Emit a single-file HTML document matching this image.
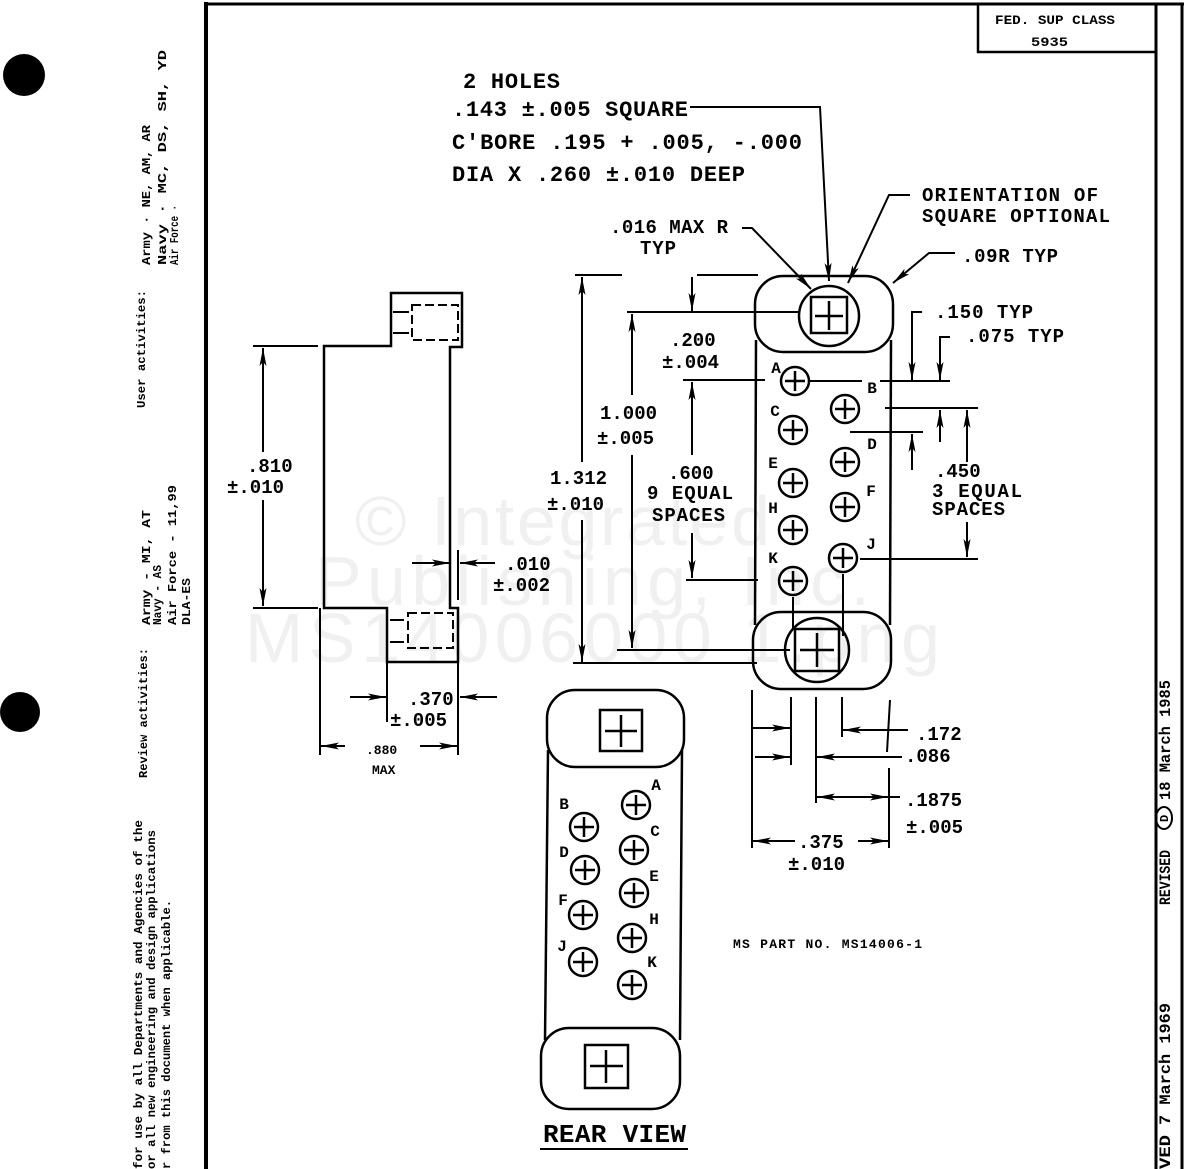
<!DOCTYPE html>
<html><head><meta charset="utf-8">
<style>
html,body{margin:0;padding:0;background:#fff;}
svg{display:block;}
text{font-family:"Liberation Mono","DejaVu Sans Mono",monospace;font-weight:bold;fill:#000;}
.d{font-size:19px;}
.t{font-size:22px;}
.l{font-size:16px;}
.s{font-size:12px;}
.m{font-size:13px;}
.r{font-size:16px;}
.w{font-family:"Liberation Sans",sans-serif;font-weight:normal;fill:#f0f0f0;font-size:70px;}
</style></head>
<body>
<svg width="1186" height="1169" viewBox="0 0 1186 1169" xmlns="http://www.w3.org/2000/svg">
<defs>
<marker id="a" viewBox="0 0 18 8" refX="18" refY="4" markerWidth="18" markerHeight="8" markerUnits="userSpaceOnUse" orient="auto-start-reverse">
<path d="M0,0.5 L18,4 L0,7.5 L4,4 Z" fill="#000"/>
</marker>
<g id="pin"><circle cx="0" cy="0" r="14" fill="none" stroke="#000" stroke-width="2.5"/><line x1="-10" y1="0" x2="10" y2="0" stroke="#000" stroke-width="2.5"/><line x1="0" y1="-10" x2="0" y2="10" stroke="#000" stroke-width="2.5"/></g>
</defs>
<rect width="1186" height="1169" fill="#fff"/>

<!-- watermark -->
<text class="w" x="355" y="545" textLength="415">© Integrated</text>
<text class="w" x="315" y="605" textLength="555">Publishing, Inc.</text>
<text class="w" x="245" y="662" textLength="695">MS14006000 1.png</text>

<!-- frame -->
<g stroke="#000" fill="none">
<line x1="206" y1="2" x2="206" y2="1169" stroke-width="4"/>
<line x1="205" y1="4" x2="1184" y2="4" stroke-width="3"/>
<line x1="1156" y1="4" x2="1156" y2="1169" stroke-width="3"/>
<line x1="1182" y1="4" x2="1182" y2="1169" stroke-width="3"/>
<line x1="978" y1="4" x2="978" y2="53" stroke-width="2.5"/>
<line x1="977" y1="52" x2="1156" y2="52" stroke-width="2.5"/>
</g>
<text class="m" x="995" y="24" textLength="120" lengthAdjust="spacingAndGlyphs">FED. SUP CLASS</text>
<text class="m" x="1031" y="46" textLength="37" lengthAdjust="spacingAndGlyphs">5935</text>

<!-- punch holes -->
<circle cx="24" cy="75" r="21" fill="#000"/>
<circle cx="20" cy="712" r="20" fill="#000"/>

<!-- left rotated notes -->
<text class="s" transform="translate(145,408) rotate(-90)" textLength="118" lengthAdjust="spacingAndGlyphs">User activities:</text>
<text class="s" transform="translate(150,265) rotate(-90)" textLength="140" lengthAdjust="spacingAndGlyphs">Army · NE, AM, AR</text>
<text class="s" transform="translate(166,265) rotate(-90)" textLength="215" lengthAdjust="spacingAndGlyphs">Navy · MC, DS, SH, YD</text>
<text class="s" transform="translate(178,265) rotate(-90)" textLength="60" lengthAdjust="spacingAndGlyphs">Air Force ·</text>
<text class="s" transform="translate(147,778) rotate(-90)" textLength="130" lengthAdjust="spacingAndGlyphs">Review activities:</text>
<text class="s" transform="translate(150,625) rotate(-90)" textLength="115" lengthAdjust="spacingAndGlyphs">Army - MI, AT</text>
<text class="s" transform="translate(161,625) rotate(-90)" textLength="60" lengthAdjust="spacingAndGlyphs">Navy - AS</text>
<text class="s" transform="translate(176,625) rotate(-90)" textLength="140" lengthAdjust="spacingAndGlyphs">Air Force - 11,99</text>
<text class="s" transform="translate(190,625) rotate(-90)" textLength="47" lengthAdjust="spacingAndGlyphs">DLA-ES</text>
<text class="s" transform="translate(142,1169) rotate(-90)" textLength="349" lengthAdjust="spacingAndGlyphs">for use by all Departments and Agencies of the</text>
<text class="s" transform="translate(155,1169) rotate(-90)" textLength="339" lengthAdjust="spacingAndGlyphs">or all new engineering and design applications</text>
<text class="s" transform="translate(170,1169) rotate(-90)" textLength="269" lengthAdjust="spacingAndGlyphs">r from this document when applicable.</text>

<!-- right rotated notes -->
<text class="r" transform="translate(1170,905) rotate(-90)" textLength="55" lengthAdjust="spacingAndGlyphs">REVISED</text>
<ellipse cx="1164" cy="818" rx="8" ry="11" fill="none" stroke="#000" stroke-width="2"/>
<text class="s" transform="translate(1168,822) rotate(-90)">D</text>
<text class="r" transform="translate(1170,800) rotate(-90)" textLength="120" lengthAdjust="spacingAndGlyphs">18 March 1985</text>
<text class="r" transform="translate(1170,1169) rotate(-90)" textLength="34" lengthAdjust="spacingAndGlyphs">VED</text>
<text class="r" transform="translate(1170,1125) rotate(-90)" textLength="122" lengthAdjust="spacingAndGlyphs">7 March 1969</text>

<!-- top callouts -->
<text class="t" x="463" y="88" textLength="97">2 HOLES</text>
<text class="t" x="452" y="116" textLength="236">.143 ±.005 SQUARE</text>
<text class="t" x="452" y="149" textLength="350">C'BORE .195 + .005, -.000</text>
<text class="t" x="452" y="181" textLength="293">DIA X .260 ±.010 DEEP</text>
<text class="d" x="922" y="201" textLength="176">ORIENTATION OF</text>
<text class="d" x="922" y="222" textLength="188">SQUARE OPTIONAL</text>
<text class="d" x="610" y="233" textLength="118">.016 MAX R</text>
<text class="d" x="640" y="254" textLength="36">TYP</text>
<text class="d" x="962" y="262" textLength="96">.09R TYP</text>

<g stroke="#000" stroke-width="2" fill="none">
<polyline points="690,107 820,107 829,281" marker-end="url(#a)"/>
<polyline points="910,195 889,195 848,283" marker-end="url(#a)"/>
<polyline points="742,228 752,228 811,289" marker-end="url(#a)"/>
<polyline points="955,253 929,253 893,283" marker-end="url(#a)"/>
</g>

<!-- front view -->
<g stroke="#000" stroke-width="2.5" fill="none">
<rect x="755" y="276" width="138" height="76" rx="28"/>
<rect x="753" y="612" width="138" height="77" rx="28"/>
<line x1="756" y1="340" x2="755" y2="625"/>
<line x1="891" y1="340" x2="890" y2="625"/>
<circle cx="829" cy="316" r="30"/>
<rect x="811" y="297" width="36" height="36"/>
<line x1="815" y1="316" x2="843" y2="316"/>
<line x1="829" y1="301" x2="829" y2="330"/>
<circle cx="817" cy="650" r="32"/>
<rect x="795" y="629" width="44" height="42"/>
<line x1="800" y1="650" x2="834" y2="650"/>
<line x1="817" y1="633" x2="817" y2="667"/>
</g>
<use href="#pin" transform="translate(795,381)"/>
<use href="#pin" transform="translate(793,430)"/>
<use href="#pin" transform="translate(793,483)"/>
<use href="#pin" transform="translate(793,530)"/>
<use href="#pin" transform="translate(793,581)"/>
<use href="#pin" transform="translate(845,409)"/>
<use href="#pin" transform="translate(845,462)"/>
<use href="#pin" transform="translate(845,507)"/>
<use href="#pin" transform="translate(843,558)"/>
<g text-anchor="middle">
<text class="l" x="776" y="373">A</text>
<text class="l" x="872" y="393">B</text>
<text class="l" x="775" y="416">C</text>
<text class="l" x="872" y="449">D</text>
<text class="l" x="773" y="468">E</text>
<text class="l" x="871" y="496">F</text>
<text class="l" x="773" y="513">H</text>
<text class="l" x="871" y="549">J</text>
<text class="l" x="773" y="563">K</text>
</g>

<g stroke="#000" stroke-width="2" fill="none">
<line x1="810" y1="381" x2="862" y2="381"/>
<line x1="793" y1="597" x2="793" y2="628"/>
<line x1="843" y1="574" x2="843" y2="636"/>

<!-- left dims of front view -->
<line x1="575" y1="275" x2="622" y2="275"/>
<line x1="697" y1="275" x2="758" y2="275"/>
<line x1="582" y1="462" x2="582" y2="277" marker-end="url(#a)"/>
<line x1="582" y1="520" x2="582" y2="662" marker-end="url(#a)"/>
<line x1="692" y1="277" x2="692" y2="311" marker-end="url(#a)"/>
<line x1="627" y1="312" x2="800" y2="312"/>
<line x1="632" y1="395" x2="632" y2="314" marker-end="url(#a)"/>
<line x1="632" y1="455" x2="632" y2="648" marker-end="url(#a)"/>
<line x1="683" y1="380" x2="765" y2="380"/>
<line x1="692" y1="455" x2="692" y2="382" marker-end="url(#a)"/>
<line x1="692" y1="533" x2="692" y2="578" marker-end="url(#a)"/>
<line x1="686" y1="580" x2="758" y2="580"/>
<line x1="617" y1="650" x2="790" y2="650"/>
<line x1="573" y1="663" x2="757" y2="663"/>

<!-- right dims -->
<polyline points="922,312 912,312 912,380" marker-end="url(#a)"/>
<polyline points="950,337 940,337 940,380" marker-end="url(#a)"/>
<line x1="880" y1="381" x2="950" y2="381"/>
<line x1="885" y1="408" x2="978" y2="408"/>
<line x1="850" y1="432" x2="923" y2="432"/>
<line x1="860" y1="559" x2="978" y2="559"/>
<line x1="940" y1="442" x2="940" y2="410" marker-end="url(#a)"/>
<line x1="912" y1="470" x2="912" y2="434" marker-end="url(#a)"/>
<line x1="967" y1="462" x2="967" y2="410" marker-end="url(#a)"/>
<line x1="967" y1="522" x2="967" y2="557" marker-end="url(#a)"/>

<!-- bottom dims -->
<line x1="752" y1="690" x2="752" y2="848"/>
<line x1="791" y1="697" x2="791" y2="765"/>
<line x1="816" y1="697" x2="816" y2="803"/>
<line x1="842" y1="697" x2="842" y2="737"/>
<line x1="890" y1="700" x2="887" y2="752"/>
<line x1="889" y1="768" x2="889" y2="848"/>
<line x1="752" y1="728" x2="790" y2="728" marker-end="url(#a)"/>
<line x1="908" y1="730" x2="843" y2="730" marker-end="url(#a)"/>
<line x1="755" y1="757" x2="790" y2="757" marker-end="url(#a)"/>
<line x1="902" y1="757" x2="817" y2="757" marker-end="url(#a)"/>
<line x1="817" y1="797" x2="888" y2="797" marker-start="url(#a)" marker-end="url(#a)"/>
<line x1="888" y1="797" x2="900" y2="797"/>
<line x1="795" y1="841" x2="753" y2="841" marker-end="url(#a)"/>
<line x1="858" y1="841" x2="888" y2="841" marker-end="url(#a)"/>
</g>

<text class="d" x="670" y="346">.200</text>
<text class="d" x="662" y="368">±.004</text>
<text class="d" x="600" y="419">1.000</text>
<text class="d" x="597" y="444">±.005</text>
<text class="d" x="550" y="484">1.312</text>
<text class="d" x="547" y="510">±.010</text>
<text class="d" x="668" y="479">.600</text>
<text class="d" x="647" y="499" textLength="86">9 EQUAL</text>
<text class="d" x="652" y="521" textLength="73">SPACES</text>
<text class="d" x="935" y="318" textLength="98">.150 TYP</text>
<text class="d" x="966" y="342" textLength="98">.075 TYP</text>
<text class="d" x="935" y="477">.450</text>
<text class="d" x="932" y="497" textLength="90">3 EQUAL</text>
<text class="d" x="932" y="515" textLength="73">SPACES</text>
<text class="d" x="916" y="740">.172</text>
<text class="d" x="905" y="762">.086</text>
<text class="d" x="905" y="806">.1875</text>
<text class="d" x="906" y="833">±.005</text>
<text class="d" x="798" y="848">.375</text>
<text class="d" x="788" y="870">±.010</text>

<!-- side view -->
<g stroke="#000" stroke-width="2.5" fill="none">
<polygon points="391,293 462,293 462,347 450,347 450,608 458,608 458,662 387,662 387,608 324,608 324,346 391,346"/>
</g>
<g stroke="#000" stroke-width="2" fill="none">
<rect x="412" y="305" width="46" height="35" stroke-dasharray="9,4"/>
<line x1="393" y1="312" x2="409" y2="312"/>
<line x1="393" y1="333" x2="409" y2="333"/>
<rect x="408" y="613" width="45" height="35" stroke-dasharray="9,4"/>
<line x1="390" y1="620" x2="404" y2="620"/>
<line x1="390" y1="642" x2="404" y2="642"/>

<line x1="253" y1="346" x2="318" y2="346"/>
<line x1="253" y1="608" x2="318" y2="608"/>
<line x1="263" y1="452" x2="263" y2="348" marker-end="url(#a)"/>
<line x1="263" y1="500" x2="263" y2="606" marker-end="url(#a)"/>
<line x1="458" y1="550" x2="458" y2="600"/>
<line x1="412" y1="563" x2="450" y2="563" marker-end="url(#a)"/>
<line x1="495" y1="563" x2="460" y2="563" marker-end="url(#a)"/>
<line x1="387" y1="662" x2="387" y2="722"/>
<line x1="458" y1="662" x2="458" y2="755"/>
<line x1="350" y1="697" x2="386" y2="697" marker-end="url(#a)"/>
<line x1="497" y1="697" x2="460" y2="697" marker-end="url(#a)"/>
<line x1="320" y1="608" x2="320" y2="755"/>
<line x1="345" y1="746" x2="321" y2="746" marker-end="url(#a)"/>
<line x1="420" y1="746" x2="457" y2="746" marker-end="url(#a)"/>
</g>
<text class="d" x="247" y="472">.810</text>
<text class="d" x="227" y="493">±.010</text>
<text class="d" x="505" y="570">.010</text>
<text class="d" x="493" y="591">±.002</text>
<text class="d" x="408" y="705">.370</text>
<text class="d" x="390" y="726">±.005</text>
<text class="m" x="366" y="754">.880</text>
<text class="m" x="372" y="774">MAX</text>

<!-- rear view -->
<g stroke="#000" stroke-width="2.5" fill="none">
<rect x="547" y="690" width="137" height="77" rx="28"/>
<rect x="541" y="1028" width="139" height="81" rx="28"/>
<line x1="548" y1="750" x2="545" y2="1040"/>
<line x1="682" y1="750" x2="680" y2="1040"/>
<rect x="600" y="710" width="42" height="41"/>
<line x1="605" y1="731" x2="637" y2="731"/>
<line x1="621" y1="715" x2="621" y2="747"/>
<rect x="585" y="1045" width="43" height="43"/>
<line x1="590" y1="1066" x2="623" y2="1066"/>
<line x1="606" y1="1050" x2="606" y2="1083"/>
</g>
<use href="#pin" transform="translate(636,805)"/>
<use href="#pin" transform="translate(634,850)"/>
<use href="#pin" transform="translate(634,893)"/>
<use href="#pin" transform="translate(632,938)"/>
<use href="#pin" transform="translate(632,985)"/>
<use href="#pin" transform="translate(584,827)"/>
<use href="#pin" transform="translate(585,870)"/>
<use href="#pin" transform="translate(583,915)"/>
<use href="#pin" transform="translate(583,962)"/>
<g text-anchor="middle">
<text class="l" x="656" y="790">A</text>
<text class="l" x="564" y="809">B</text>
<text class="l" x="655" y="836">C</text>
<text class="l" x="564" y="857">D</text>
<text class="l" x="654" y="881">E</text>
<text class="l" x="563" y="905">F</text>
<text class="l" x="654" y="924">H</text>
<text class="l" x="562" y="951">J</text>
<text class="l" x="652" y="967">K</text>
</g>
<text x="543" y="1142" style="font-size:26px" textLength="143">REAR VIEW</text>
<line x1="540" y1="1149" x2="688" y2="1149" stroke="#000" stroke-width="2"/>

<text class="m" x="733" y="948" textLength="189">MS PART NO. MS14006-1</text>
</svg>
</body></html>
